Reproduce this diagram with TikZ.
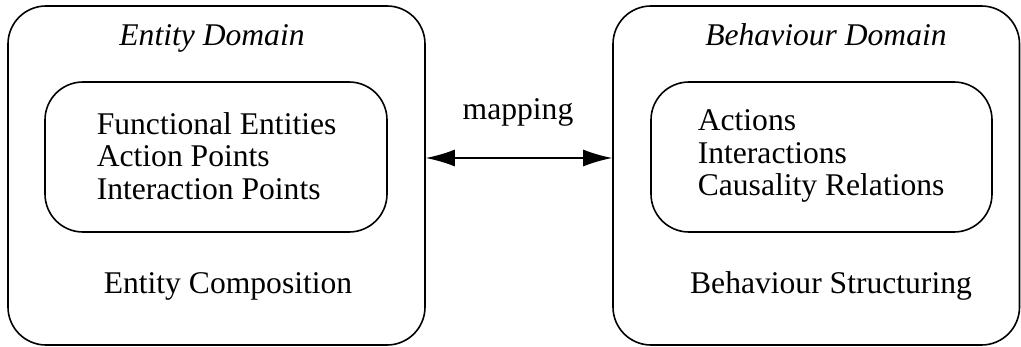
\documentclass[tikz,border=0pt]{standalone}
\usepackage{fontspec}
\setmainfont{Liberation Serif}
\usepackage{tikz}
\usetikzlibrary{arrows.meta}

\begin{document}
\begin{tikzpicture}[x=0.5pt,y=-0.5pt,line width=0.8pt,
  domainbox/.style={draw,rounded corners=19pt,inner sep=0pt},
  inbox/.style={draw,rounded corners=19pt,inner sep=0pt,minimum height=75pt},
  lbl/.style={inner sep=0pt,font=\fontsize{15.8}{16.3}\selectfont},
  maparrow/.style={{Latex[length=14.5pt,width=8.5pt]}-{Latex[length=14.5pt,width=8.5pt]}}]
\useasboundingbox (0,0) rectangle (1021,347);
% domains
\node[domainbox,minimum width=208.5pt,minimum height=169.5pt] (ent) at (216.5,175.5) {};
\node[domainbox,minimum width=203.25pt,minimum height=169.5pt] (beh) at (816.25,175.5) {};
% inner boxes
\node[inbox,minimum width=171pt] (entin) at (216,157) {};
\node[inbox,minimum width=170.5pt] (behin) at (821.5,157) {};
% titles
\node[lbl,anchor=base] (enttitle) at (212,46) {\itshape Entity Domain};
\node[lbl,anchor=base] (behtitle) at (826,46) {\itshape Behaviour Domain};
% contents
\node[lbl,align=left,anchor=west] (entlist) at (96,156) {Functional Entities\\Action Points\\Interaction Points};
\node[lbl,align=left,anchor=west] (behlist) at (697,156) {Actions\\Interactions\\Causality Relations};
\node[lbl,anchor=base] (entcomp) at (228,293) {Entity Composition};
\node[lbl,anchor=base] (behstruct) at (831,293) {Behaviour Structuring};
% mapping
\node[lbl,anchor=base] (map) at (518,120) {mapping};
\draw[maparrow] (ent.east |- 0,158) -- (beh.west |- 0,158);
\end{tikzpicture}
\end{document}
